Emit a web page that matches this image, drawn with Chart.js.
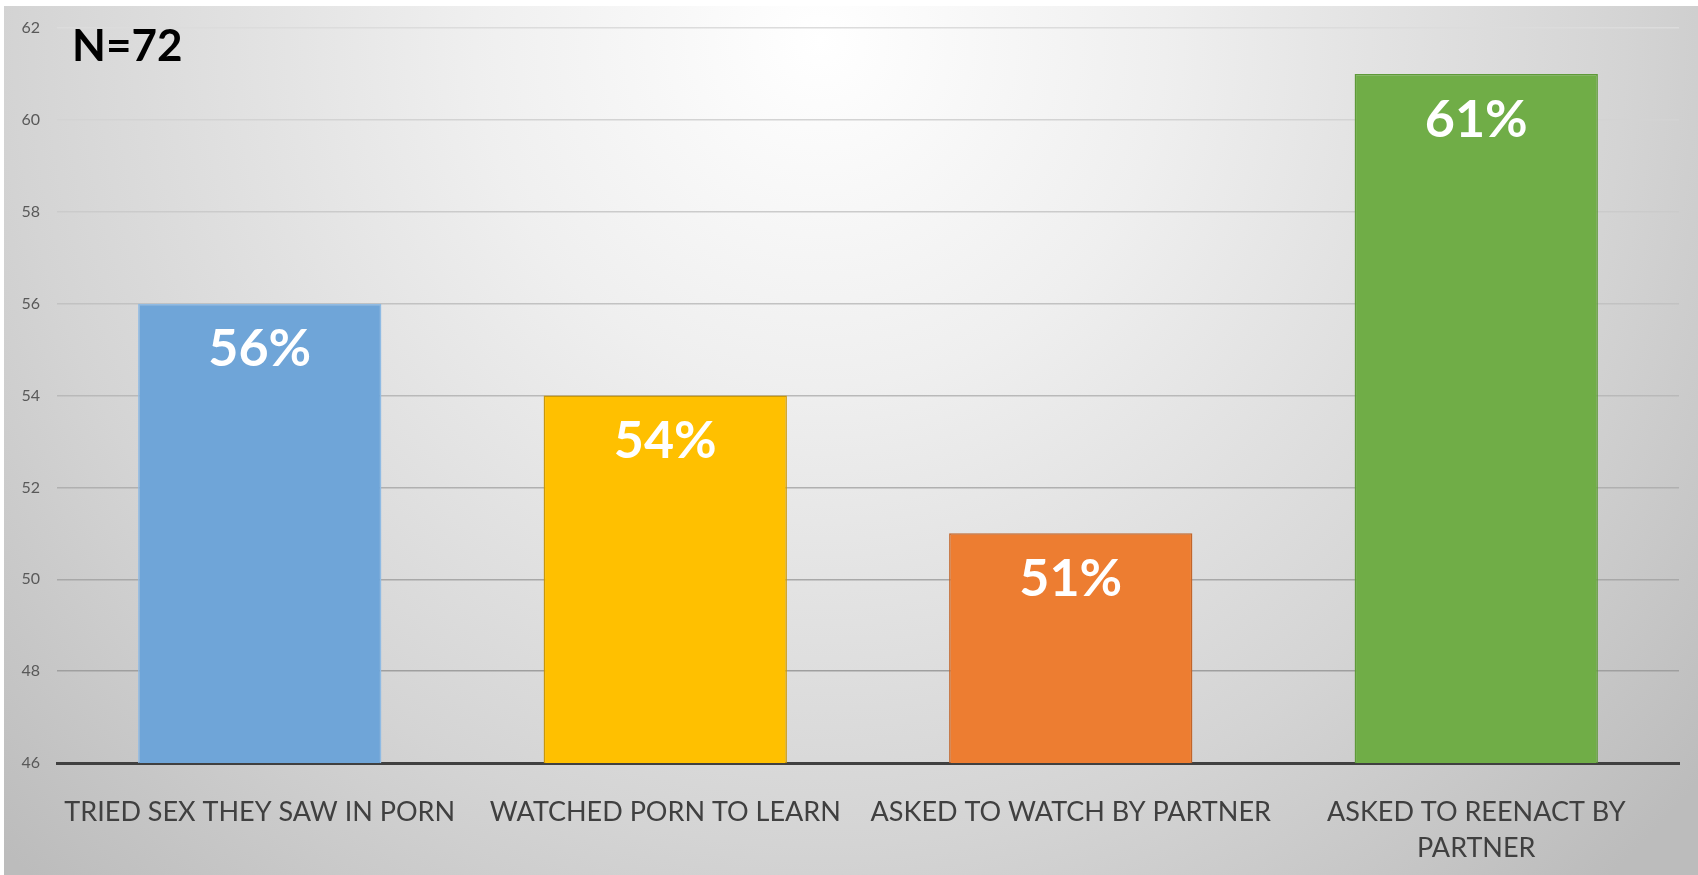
<!DOCTYPE html>
<html>
<head>
<meta charset="utf-8">
<script src="https://cdn.jsdelivr.net/npm/chart.js@4/dist/chart.umd.min.js"></script>
<style>
  html, body { margin: 0; padding: 0; background: #fff; }
  #wrap { width: 1698px; height: 875px; position: relative; }
</style>
</head>
<body>
<div id="wrap"><canvas id="chart"></canvas></div>
<script>
const ctx = document.getElementById('chart');

const CATEGORIES = [
  'TRIED SEX THEY SAW IN PORN',
  'WATCHED PORN TO LEARN',
  'ASKED TO WATCH BY PARTNER',
  ['ASKED TO REENACT BY', 'PARTNER']
];
const VALUES = [56, 54, 51, 61];
const Y_MIN = 46;
const Y_MAX = 62;
const Y_STEP = 2;
const SAMPLE_NOTE = 'N=72';

const FILLS = ['#6fa5d8', '#ffc000', '#ed7d31', '#70ad47'];
const EDGES = ['#8fbbe4', '#c9980a', '#c2652a', '#5e9a38'];

const FONT = 'Lato, "Open Sans", sans-serif';

// slide style background, light in the middle top, gray round the edges
const backdrop = {
  id: 'backdrop',
  beforeDraw(chart) {
    const c = chart.ctx;
    const w = chart.width, h = chart.height;
    c.save();
    c.fillStyle = '#ffffff';
    c.fillRect(0, 0, w, h);
    const g = c.createRadialGradient(820, 40, 0, 820, 40, 1150);
    g.addColorStop(0, '#ffffff');
    g.addColorStop(0.3, '#efefef');
    g.addColorStop(0.7, '#d4d4d4');
    g.addColorStop(1, '#bcbcbc');
    c.fillStyle = g;
    c.fillRect(4, 6, w - 4, h - 6);
    c.restore();
  }
};

// white percent labels inside the top of each bar, plus the N note
const barLabels = {
  id: 'barLabels',
  afterDatasetsDraw(chart) {
    const c = chart.ctx;
    const meta = chart.getDatasetMeta(0);
    c.save();
    c.fillStyle = '#ffffff';
    c.font = 'bold 52px ' + FONT;
    c.textAlign = 'center';
    c.textBaseline = 'middle';
    meta.data.forEach((bar, i) => {
      c.fillText(VALUES[i] + '%', bar.x, bar.y + 46);
    });
    c.fillStyle = '#000000';
    c.font = 'bold 44px ' + FONT;
    c.textAlign = 'left';
    c.textBaseline = 'alphabetic';
    c.fillText(SAMPLE_NOTE, 72, 61);
    c.restore();
  }
};

function gridShade(value) {
  // gridlines get darker toward the bottom of the plot
  const t = (value - Y_MIN) / (Y_MAX - Y_MIN);
  const v = Math.round(150 + t * 70);
  return 'rgb(' + v + ',' + v + ',' + v + ')';
}

new Chart(ctx, {
  type: 'bar',
  data: {
    labels: CATEGORIES,
    datasets: [{
      data: VALUES,
      backgroundColor: FILLS,
      borderColor: EDGES,
      borderWidth: 1.5,
      categoryPercentage: 1.0,
      barPercentage: 0.6
    }]
  },
  plugins: [backdrop, barLabels],
  options: {
    responsive: true,
    maintainAspectRatio: false,
    animation: false,
    layout: {
      padding: { top: 28, right: 19, left: 0, bottom: 0 }
    },
    plugins: {
      legend: { display: false },
      tooltip: { enabled: false }
    },
    scales: {
      x: {
        grid: { display: false },
        border: { display: true, color: '#404040', width: 3 },
        ticks: {
          color: '#404040',
          font: { family: FONT, size: 27, lineHeight: 1.35 },
          padding: 23,
          maxRotation: 0,
          autoSkip: false
        },
        afterFit(scale) { scale.height = 112; }
      },
      y: {
        min: Y_MIN,
        max: Y_MAX,
        border: { display: false },
        grid: {
          drawTicks: false,
          lineWidth: 1.5,
          color: (c) => gridShade(c.tick.value)
        },
        ticks: {
          stepSize: Y_STEP,
          color: '#595959',
          font: { family: FONT, size: 16 },
          padding: 17
        },
        afterFit(scale) { scale.width = 57; }
      }
    }
  }
});
</script>
</body>
</html>
